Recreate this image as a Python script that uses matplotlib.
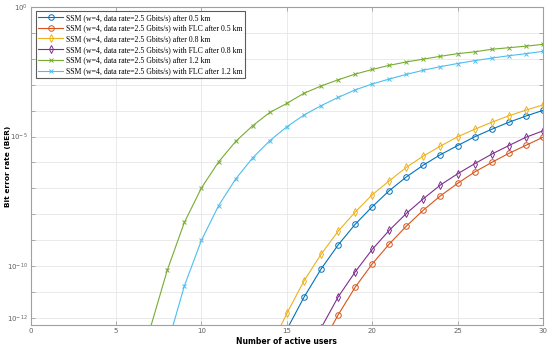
import numpy as np
import matplotlib
matplotlib.use("Agg")
import matplotlib.pyplot as plt
from matplotlib.ticker import FixedLocator, NullFormatter

# number of active users
users_a = list(range(14, 31))   # 0.5 km / 0.8 km curves
users_b = list(range(17, 31))   # FLC curves at 0.5 / 0.8 km
users_c = list(range(7, 31))    # 1.2 km curves

# log10(BER)
ber_05 = [-13.8, -12.45, -11.21, -10.12, -9.19, -8.39, -7.71, -7.09, -6.56, -6.10,
          -5.70, -5.35, -5.01, -4.72, -4.45, -4.21, -3.99]
ber_05_flc = [-13.1, -11.89, -10.82, -9.92, -9.15, -8.46, -7.84, -7.29, -6.81,
              -6.37, -6.00, -5.65, -5.34, -5.03]
ber_08 = [-13.2, -11.83, -10.58, -9.55, -8.66, -7.92, -7.25, -6.71, -6.19, -5.75,
          -5.37, -5.01, -4.72, -4.45, -4.20, -3.98, -3.78]
ber_08_flc = [-12.4, -11.20, -10.23, -9.36, -8.62, -7.97, -7.40, -6.87, -6.44,
              -6.05, -5.68, -5.35, -5.03, -4.78]
ber_12 = [-12.4, -10.15, -8.31, -6.98, -5.98, -5.19, -4.58, -4.07, -3.72, -3.33,
          -3.05, -2.81, -2.59, -2.41, -2.25, -2.12, -2.01, -1.90, -1.80, -1.73,
          -1.63, -1.57, -1.51, -1.44]
ber_12_flc = [-15.0, -13.06, -10.76, -9.0, -7.67, -6.64, -5.82, -5.16, -4.62, -4.17,
              -3.81, -3.49, -3.20, -2.97, -2.78, -2.60, -2.44, -2.30, -2.18, -2.07,
              -1.97, -1.88, -1.80, -1.71]

series = [
    (users_a, ber_05, "SSM (w=4, data rate=2.5 Gbits/s) after 0.5 km", "#0072BD", "o"),
    (users_b, ber_05_flc, "SSM (w=4, data rate=2.5 Gbits/s) with FLC after 0.5 km", "#D95319", "o"),
    (users_a, ber_08, "SSM (w=4, data rate=2.5 Gbits/s) after 0.8 km", "#EDB120", "d"),
    (users_b, ber_08_flc, "SSM (w=4, data rate=2.5 Gbits/s) with FLC after 0.8 km", "#7E2F8E", "d"),
    (users_c, ber_12, "SSM (w=4, data rate=2.5 Gbits/s) after 1.2 km", "#77AC30", "x"),
    (users_c, ber_12_flc, "SSM (w=4, data rate=2.5 Gbits/s) with FLC after 1.2 km", "#4DBEEE", "x"),
]

fig = plt.figure(figsize=(5.5, 3.53), dpi=100)
ax = fig.add_axes([0.056, 0.079, 0.931, 0.901])

for x, y, lab, col, mk in series:
    ms = 3 if mk == "x" else 4
    ax.plot(x, 10.0 ** np.array(y), color=col, lw=0.8, marker=mk, ms=ms,
            mfc="none", mew=0.7, label=lab)

ax.set_yscale("log")
ax.set_xlim(0, 30)
ax.set_ylim(10 ** -12.28, 1)
ax.set_xticks(range(0, 31, 5))
ax.yaxis.set_major_locator(FixedLocator([1e-12, 1e-10, 1e-5, 1e0]))
ax.set_yticklabels([r"$10^{-12}$", r"$10^{-10}$", r"$10^{-5}$", r"$10^{0}$"])
ax.yaxis.set_minor_locator(FixedLocator([10.0 ** k for k in range(-12, 1)]))
ax.yaxis.set_minor_formatter(NullFormatter())

ax.grid(True, which="major", color="#e6e6e6", lw=0.6)
ax.grid(True, which="minor", axis="y", color="#e6e6e6", lw=0.6)
ax.set_axisbelow(True)

for s in ax.spines.values():
    s.set_color("#a0a0a0")
    s.set_linewidth(0.8)
ax.tick_params(which="both", direction="in", top=True, right=True,
               colors="#a0a0a0", labelcolor="#606060", labelsize=5, length=3, width=0.6, pad=2)
ax.tick_params(which="minor", length=3)

ax.set_xlabel("Number of active users", fontsize=5.5, fontweight="bold", labelpad=2)
ax.set_ylabel("Bit error rate (BER)", fontsize=5.3, fontweight="bold")
ax.yaxis.set_label_coords(-0.038, 0.5)

leg = ax.legend(loc="upper left", bbox_to_anchor=(0.005, 0.995),
                prop={"family": "Liberation Serif", "size": 5.6},
                frameon=True, fancybox=False, edgecolor="#333333",
                borderpad=0.35, labelspacing=0.35, handlelength=3.2, handletextpad=0.3,
                borderaxespad=0.3)
leg.get_frame().set_linewidth(0.8)

fig.savefig("out.png", dpi=100)
